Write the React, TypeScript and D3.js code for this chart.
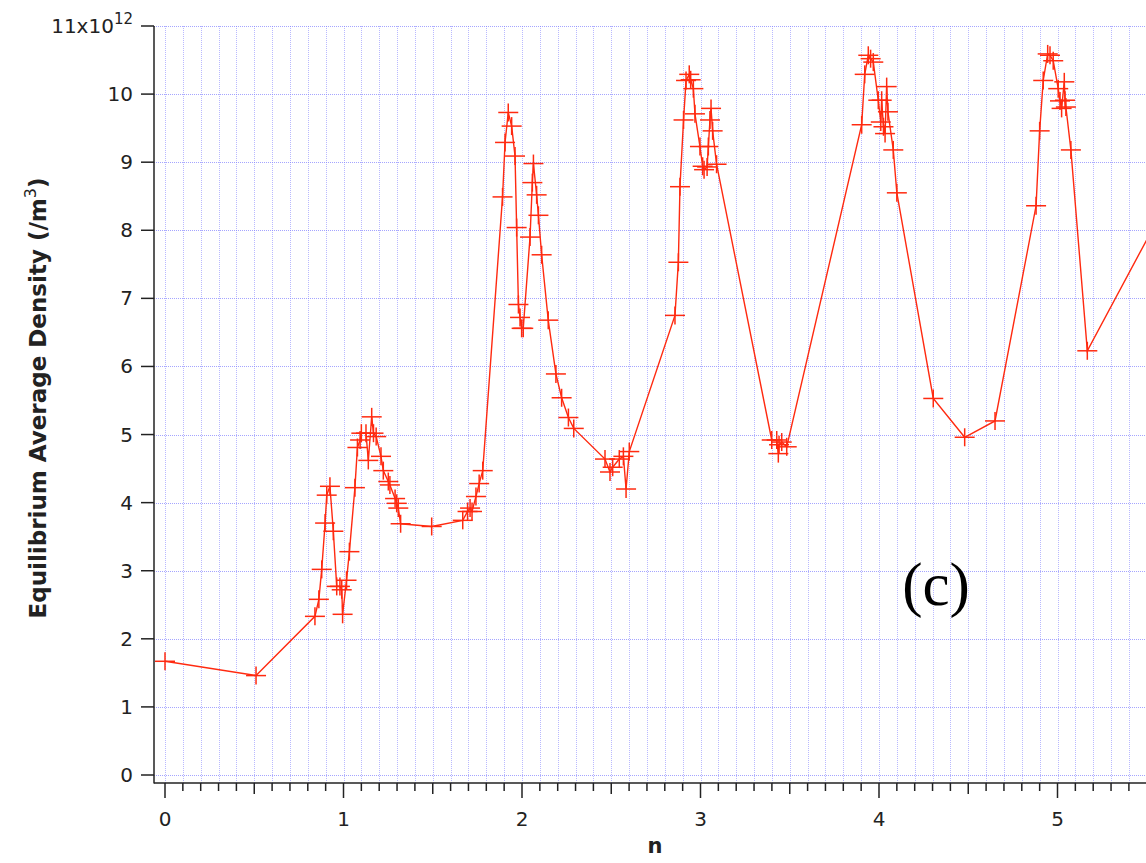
import React from "react";
import * as d3 from "d3";

const nValues = [
  0.0, 0.51, 0.84, 0.862, 0.878, 0.897, 0.906, 0.924, 0.943, 0.962, 0.98, 0.99, 0.995,
  1.017, 1.033, 1.064, 1.078, 1.093, 1.1, 1.126, 1.139, 1.158, 1.168, 1.183, 1.21, 1.223,
  1.251, 1.26, 1.289, 1.298, 1.307, 1.32, 1.494, 1.668, 1.695, 1.709, 1.72, 1.742, 1.76,
  1.78, 1.891, 1.905, 1.923, 1.942, 1.961, 1.97, 1.98, 1.989, 1.998, 2.007, 2.045, 2.058,
  2.064, 2.082, 2.092, 2.11, 2.147, 2.19, 2.222, 2.26, 2.29, 2.465, 2.493, 2.508, 2.545,
  2.568, 2.583, 2.601, 2.857, 2.876, 2.885, 2.905, 2.919, 2.937, 2.945, 2.96, 2.969, 2.997,
  3.012, 3.02, 3.037, 3.044, 3.053, 3.059, 3.068, 3.09, 3.399, 3.427, 3.436, 3.44, 3.455,
  3.483, 3.903, 3.92, 3.94, 3.953, 3.968, 3.996, 4.01, 4.015, 4.025, 4.034, 4.043, 4.05,
  4.08, 4.1, 4.304, 4.48, 4.65, 4.88, 4.9, 4.92, 4.945, 4.958, 4.976, 5.004, 5.014, 5.023,
  5.038, 5.042, 5.047, 5.075, 5.167, 5.6,
];

// density in units of 1e12 /m^3
const densityValues = [
  1.67, 1.46, 2.33, 2.58, 3.02, 3.7, 4.11, 4.24, 3.58, 2.77, 2.77, 2.72, 2.36,
  2.86, 3.28, 4.22, 4.81, 4.92, 5.02, 5.02, 4.62, 5.26, 5.02, 4.97, 4.68, 4.47,
  4.31, 4.26, 4.06, 3.99, 3.92, 3.69, 3.65, 3.74, 3.87, 3.92, 3.87, 4.09, 4.28,
  4.47, 8.49, 9.29, 9.73, 9.53, 9.09, 8.04, 6.91, 6.72, 6.56, 6.56, 7.9, 8.7,
  8.98, 8.52, 8.22, 7.64, 6.68, 5.89, 5.54, 5.25, 5.09, 4.64, 4.45, 4.52, 4.64,
  4.68, 4.2, 4.75, 6.75, 7.53, 8.64, 9.62, 10.2, 10.29, 10.21, 10.08, 9.71, 9.23,
  8.94, 8.89, 8.93, 9.23, 9.62, 9.79, 9.46, 8.97, 4.92, 4.92, 4.72, 4.85, 4.89,
  4.82, 9.55, 10.29, 10.57, 10.52, 10.47, 9.91, 9.59, 9.91, 9.52, 9.42, 10.11, 9.74,
  9.18, 8.55, 5.53, 4.96, 5.2, 8.36, 9.46, 10.2, 10.59, 10.57, 10.49, 10.08, 9.9, 9.79,
  10.18, 9.91, 9.81, 9.18, 6.23, 8.35,
];

const xTickValues = [0, 1, 2, 3, 4, 5];
const yTickValues = [0, 1, 2, 3, 4, 5, 6, 7, 8, 9, 10, 11];
const xTitle = "n";
const yTitle = "Equilibrium Average Density (/m";
const panelLabel = "(c)";

const W = 1146;
const H = 863;
const axisX = 154;
const axisY = 783;
const plotRight = 1146;
const plotTop = 26;

const FONT = "'DejaVu Sans', Verdana, sans-serif";
const RED = "#ff2a10";
const GRID = "#8080ff";

export default function App() {
  const x = d3.scaleLinear().domain([0, 5]).range([165, 1057.5]);
  const y = d3.scaleLinear().domain([0, 11]).range([775, 26]);

  const data = nValues.map((n, i) => ({ n, d: densityValues[i] }));
  const line = d3
    .line<{ n: number; d: number }>()
    .x((p) => x(p.n))
    .y((p) => y(p.d));

  const minorTicks = d3.range(0, 56).map((i) => i / 10);
  const xMax = x.invert(plotRight);

  return (
    <svg
      width={W}
      height={H}
      style={{ position: "absolute", left: 0, top: 0, background: "#fff" }}
    >
      <defs>
        <clipPath id="plotclip">
          <rect x={axisX} y={0} width={plotRight - axisX} height={axisY} />
        </clipPath>
      </defs>
      <rect x={0} y={0} width={W} height={H} fill="#fff" />

      {/* vertical grid every 0.1 */}
      <g>
        {minorTicks
          .filter((v) => v <= xMax + 1e-9)
          .map((v, i) => (
            <line
              key={"vg" + i}
              x1={Math.round(x(v)) + 0.5}
              x2={Math.round(x(v)) + 0.5}
              y1={plotTop}
              y2={axisY}
              stroke={GRID}
              strokeWidth={1}
              strokeDasharray="1 1"
              opacity={0.55}
            />
          ))}
      </g>
      {/* horizontal grid at each integer */}
      <g>
        {yTickValues.map((v) => (
          <line
            key={"hg" + v}
            x1={axisX}
            x2={plotRight}
            y1={Math.round(y(v)) + 0.5}
            y2={Math.round(y(v)) + 0.5}
            stroke={GRID}
            strokeWidth={1}
            strokeDasharray="1 1"
            opacity={0.7}
          />
        ))}
      </g>

      {/* data */}
      <g clipPath="url(#plotclip)">
        <path d={line(data) || ""} fill="none" stroke={RED} strokeWidth={1.4} />
        {data.map((p, i) => (
          <g key={"m" + i} stroke={RED} strokeWidth={1.5}>
            <line x1={x(p.n) - 10} x2={x(p.n) + 10} y1={y(p.d)} y2={y(p.d)} />
            <line x1={x(p.n)} x2={x(p.n)} y1={y(p.d) - 9} y2={y(p.d) + 9} />
          </g>
        ))}
      </g>

      {/* axes */}
      <line x1={axisX} x2={axisX} y1={plotTop} y2={axisY + 0.5} stroke="#222" strokeWidth={1.5} />
      <line x1={axisX} x2={plotRight} y1={axisY} y2={axisY} stroke="#222" strokeWidth={1.5} />

      {/* y ticks */}
      {yTickValues.map((v) => (
        <g key={"yt" + v}>
          <line x1={axisX - 13} x2={axisX} y1={y(v)} y2={y(v)} stroke="#222" strokeWidth={1.5} />
          {v < 11 ? (
            <text
              x={133}
              y={y(v) + 7}
              textAnchor="end"
              fontFamily={FONT}
              fontSize={20}
              fill="#222"
            >
              {v}
            </text>
          ) : (
            <text x={133} y={y(v) + 7} textAnchor="end" fontFamily={FONT} fontSize={20} fill="#222">
              {"11x10"}
              <tspan fontSize={15} dy={-9}>
                {"12"}
              </tspan>
            </text>
          )}
        </g>
      ))}

      {/* x ticks */}
      {minorTicks
        .filter((v) => v <= xMax + 1e-9)
        .map((v, i) => {
          const isMajor = Math.abs(v - Math.round(v)) < 1e-6;
          const isHalf = !isMajor && Math.abs(v * 2 - Math.round(v * 2)) < 1e-6;
          const len = isMajor ? 15 : isHalf ? 11 : 8;
          return (
            <line
              key={"xt" + i}
              x1={x(v)}
              x2={x(v)}
              y1={axisY}
              y2={axisY + len}
              stroke="#222"
              strokeWidth={1.5}
            />
          );
        })}
      {xTickValues.map((v) => (
        <text
          key={"xl" + v}
          x={x(v)}
          y={826}
          textAnchor="middle"
          fontFamily={FONT}
          fontSize={20}
          fill="#222"
        >
          {v}
        </text>
      ))}

      {/* axis titles */}
      <text
        x={655}
        y={853}
        textAnchor="middle"
        fontFamily={FONT}
        fontWeight="bold"
        fontSize={21}
        fill="#222"
      >
        {xTitle}
      </text>
      <text
        transform={`translate(46, 398) rotate(-90)`}
        textAnchor="middle"
        fontFamily={FONT}
        fontWeight="bold"
        fontSize={23}
        fill="#222"
      >
        {yTitle}
        <tspan fontSize={16} dy={-10} fontWeight="normal">
          3
        </tspan>
        <tspan dy={10}>)</tspan>
      </text>

      {/* panel label */}
      <text
        x={936}
        y={605}
        textAnchor="middle"
        fontFamily="'Liberation Serif', 'Times New Roman', serif"
        fontSize={61}
        fill="#000"
      >
        {panelLabel}
      </text>
    </svg>
  );
}
